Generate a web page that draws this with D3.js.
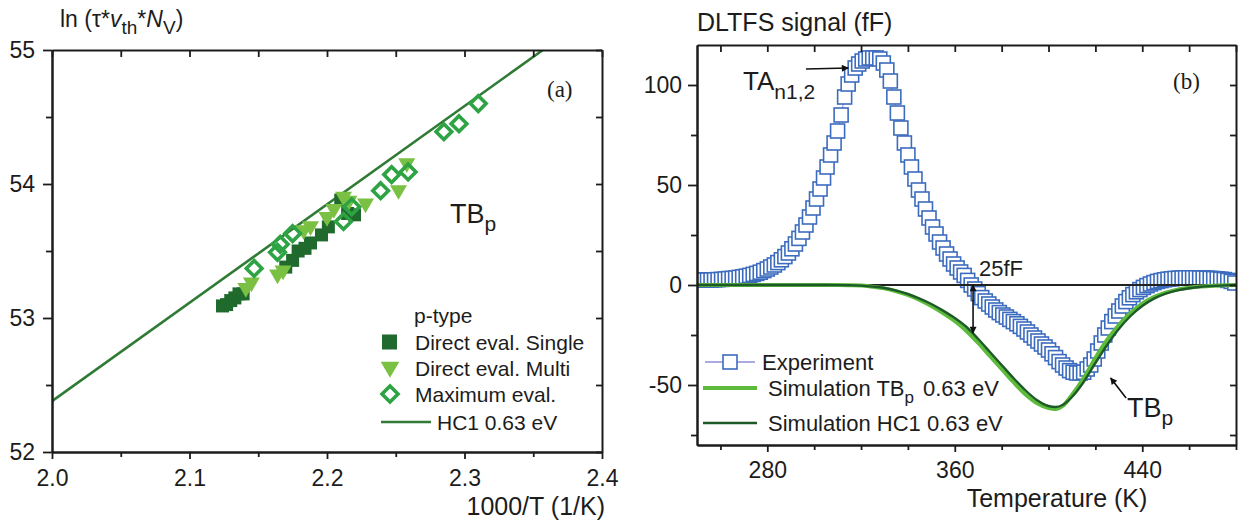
<!DOCTYPE html>
<html>
<head>
<meta charset="utf-8">
<script src="https://cdn.jsdelivr.net/npm/d3@7"></script>
<style>
  body { margin: 0; background: #fff; }
  text { font-family: "Liberation Sans", Arial, sans-serif; fill: #1c1c1c; }
  .serif { font-family: "Liberation Serif", "Times New Roman", serif; }
</style>
</head>
<body>
<svg id="fig" width="1244" height="524"></svg>
<script>
// ---------- panel (a): Arrhenius plot of TBp ----------
const singleX = [2.124, 2.127, 2.130, 2.133, 2.136, 2.139, 2.170, 2.175, 2.179, 2.184, 2.188, 2.196, 2.201, 2.210, 2.215, 2.220];
const singleY = [53.09, 53.10, 53.13, 53.15, 53.18, 53.18, 53.38, 53.43, 53.50, 53.52, 53.56, 53.62, 53.68, 53.88, 53.78, 53.77];

const multiX = [2.141, 2.145, 2.164, 2.168, 2.183, 2.188, 2.200, 2.205, 2.212, 2.216, 2.228, 2.252, 2.258];
const multiY = [53.21, 53.25, 53.31, 53.34, 53.64, 53.67, 53.74, 53.80, 53.89, 53.86, 53.84, 53.94, 54.14];

const maxX = [2.147, 2.164, 2.166, 2.175, 2.212, 2.218, 2.239, 2.247, 2.259, 2.285, 2.296, 2.310];
const maxY = [53.37, 53.49, 53.55, 53.63, 53.72, 53.83, 53.95, 54.07, 54.09, 54.39, 54.45, 54.60];

// HC1 0.63 eV reference line (end points)
const hc1X = [2.0, 2.357];
const hc1Y = [52.38, 55.0];

const aXTicks = [2.0, 2.1, 2.2, 2.3, 2.4];
const aXMinor = [2.05, 2.15, 2.25, 2.35];
const aYTicks = [52, 53, 54, 55];
const aYMinor = [52.5, 53.5, 54.5];

// ---------- panel (b): DLTFS spectrum ----------
const expT = [
  250, 251.5, 253, 254.5, 256, 257.5, 259, 260.5, 262, 263.5,
  265, 266.5, 268, 269.5, 271, 272.5, 274, 275.5, 277, 278.5,
  280, 281.5, 283, 284.5, 286, 287.5, 289, 290.5, 292, 293.5,
  295, 296.5, 298, 299.5, 301, 302.5, 304, 305.5, 307, 308.5,
  310, 311.5, 313, 314.5, 316, 317.5, 319, 320.5, 322, 323.5,
  325, 326.5, 328, 329.5, 331, 332.5, 334, 335.5, 337, 338.5,
  340, 341.5, 343, 344.5, 346, 347.5, 349, 350.5, 352, 353.5,
  355, 356.5, 358, 359.5, 361, 362.5, 364, 365.5, 367, 368.5,
  370, 371.5, 373, 374.5, 376, 377.5, 379, 380.5, 382, 383.5,
  385, 386.5, 388, 389.5, 391, 392.5, 394, 395.5, 397, 398.5,
  400, 401.5, 403, 404.5, 406, 407.5, 409, 410.5, 412, 413.5,
  415, 416.5, 418, 419.5, 421, 422.5, 424, 425.5, 427, 428.5,
  430, 431.5, 433, 434.5, 436, 437.5, 439, 440.5, 442, 443.5,
  445, 446.5, 448, 449.5, 451, 452.5, 454, 455.5, 457, 458.5,
  460, 461.5, 463, 464.5, 466, 467.5, 469, 470.5, 472, 473.5,
  475, 476.5, 478, 479.5];
const expS = [
  2.5, 2.5, 2.5, 2.5, 2.5, 2.6, 2.7, 2.8, 3.0, 3.2,
  3.3, 3.5, 3.8, 4.1, 4.4, 4.8, 5.3, 5.8, 6.4, 7.2,
  8.0, 9.0, 10.0, 11.2, 12.6, 14.2, 16.0, 18.1, 20.5, 23.3,
  26.5, 30, 34, 38.5, 43, 48, 53.5, 59, 65, 71,
  77, 85, 94, 100.5, 105, 108.5, 110.5, 112, 113, 113.5,
  113.5, 113.5, 113, 111, 107.5, 102, 94, 86, 78.5, 71,
  65, 59, 53, 47.5, 43, 38, 33.5, 29, 25.5, 21.5,
  18.5, 15.5, 13, 10.5, 8.5, 6.5, 4.8, 2.3, 0, -2,
  -4.3, -6.3, -8, -9.5, -11, -12.5, -13.8, -15, -16, -17.2,
  -18.3, -19.4, -20.7, -22, -23.5, -25, -26.5, -28, -29.5, -31,
  -32.5, -34.4, -36.3, -38.3, -40, -41.5, -42.8, -43.6, -44, -44,
  -43.6, -42, -40, -37, -33, -29, -25, -21.5, -18.3, -15.5,
  -13, -10.5, -8.3, -6.4, -4.8, -3.4, -2.3, -1.2, -0.3, 0.5,
  1.2, 1.8, 2.2, 2.6, 2.9, 3.1, 3.3, 3.4, 3.5, 3.6,
  3.6, 3.6, 3.6, 3.5, 3.5, 3.4, 3.3, 3.2, 3.1, 2.9,
  2.7, 2.3, 1.8, 1.0];

const simT   = [250,260,270,280,290,300,305,310,315,320,325,330,335,340,345,350,355,360,365,370,375,
                380,385,390,395,400,403,406,410,415,420,425,430,435,440,445,450,455,460,465,470,475,480];
const simHC1 = [0,0,0,0,0,0,0,-0.05,-0.15,-0.3,-0.8,-1.5,-2.8,-4.5,-6.8,-9.5,-12.8,-16.5,-21,-27,-33.5,
                -40,-46.5,-52.5,-57.5,-60.5,-61,-60,-56,-48.5,-39,-30,-22,-15.5,-10.5,-6.8,-4.3,-2.7,-1.6,-0.9,-0.5,-0.2,0];
const simTBp = [0,0,0,0,0,0,0,-0.05,-0.15,-0.3,-0.9,-1.7,-3.1,-5,-7.5,-10.5,-14,-18,-23,-29,-35.5,
                -42,-48.5,-54.5,-59,-61.5,-62,-60.5,-55,-46.5,-36.5,-27.5,-20,-14,-9.3,-6,-3.8,-2.3,-1.4,-0.8,-0.4,-0.15,0];

const bXTicks = [280, 360, 440];
const bXMinor = [260, 300, 320, 340, 380, 400, 420, 460, 480];
const bYTicks = [-50, 0, 50, 100];
const bYMinor = [-75, -25, 25, 75];

// ---------- colours ----------
const C = {
  axis: "#1c1c1c",
  single: "#1f6a2c",
  multi: "#7ac143",
  max: "#2ea344",
  hc1Line: "#2f7a34",
  exp: "#3c6cbf",
  expLine: "#8f8fd6",
  simTB: "#5dbb3c",
  simHC: "#1d5a28"
};

const svg = d3.select("#fig");
// plain hyphen for negative tick labels
const intFmt = d => String(Math.round(d));

function styleAxis(g, fontSize) {
  g.attr("font-family", null).attr("font-size", null);
  g.select(".domain").attr("stroke", C.axis).attr("stroke-width", 2);
  g.selectAll(".tick line").attr("stroke", C.axis).attr("stroke-width", 1.8);
  g.selectAll(".tick text").attr("fill", C.axis).style("font-size", fontSize + "px");
}

function drawFrame(x, y, xt, xm, yt, ym, fmtX, fmtY, opts) {
  const [x0, x1] = x.range();
  const [y0, y1] = y.range();
  // bottom
  svg.append("g").attr("transform", `translate(0,${y0})`)
    .call(d3.axisBottom(x).tickValues(xm).tickSize(5).tickSizeOuter(0).tickFormat(""))
    .call(g => styleAxis(g, 23));
  svg.append("g").attr("transform", `translate(0,${y0})`)
    .call(d3.axisBottom(x).tickValues(xt).tickSize(7).tickPadding(opts.bPad).tickSizeOuter(0).tickFormat(fmtX))
    .call(g => styleAxis(g, 23));
  // top (inward ticks)
  svg.append("g").attr("transform", `translate(0,${y1})`)
    .call(d3.axisTop(x).tickValues(xt.concat(xm)).tickSize(-7).tickSizeOuter(0).tickFormat(""))
    .call(g => styleAxis(g, 23));
  // left
  svg.append("g").attr("transform", `translate(${x0},0)`)
    .call(d3.axisLeft(y).tickValues(ym).tickSize(6).tickSizeOuter(0).tickFormat(""))
    .call(g => styleAxis(g, 23));
  svg.append("g").attr("transform", `translate(${x0},0)`)
    .call(d3.axisLeft(y).tickValues(yt).tickSize(9).tickPadding(opts.lPad).tickSizeOuter(0).tickFormat(fmtY))
    .call(g => styleAxis(g, 23));
  // right (inward ticks)
  svg.append("g").attr("transform", `translate(${x1},0)`)
    .call(d3.axisRight(y).tickValues(yt.concat(ym)).tickSize(-6).tickSizeOuter(0).tickFormat(""))
    .call(g => styleAxis(g, 23));
}

// ================= panel (a) =================
const xa = d3.scaleLinear().domain([2.0, 2.4]).range([52, 602]);
const ya = d3.scaleLinear().domain([52, 55]).range([452, 50]);

svg.append("clipPath").attr("id", "clipA")
  .append("rect").attr("x", 52).attr("y", 50).attr("width", 550).attr("height", 402);

const gA = svg.append("g").attr("clip-path", "url(#clipA)");

gA.append("path")
  .datum(hc1X.map((d, i) => [d, hc1Y[i]]))
  .attr("d", d3.line().x(d => xa(d[0])).y(d => ya(d[1])))
  .attr("fill", "none").attr("stroke", C.hc1Line).attr("stroke-width", 2.6);

const sq = 13;
gA.selectAll(".single").data(singleX.map((d, i) => [d, singleY[i]])).join("rect")
  .attr("x", d => xa(d[0]) - sq / 2).attr("y", d => ya(d[1]) - sq / 2)
  .attr("width", sq).attr("height", sq).attr("fill", C.single);

const tri = d3.symbol().type(d3.symbolTriangle).size(125);
gA.selectAll(".multi").data(multiX.map((d, i) => [d, multiY[i]])).join("path")
  .attr("d", tri)
  .attr("transform", d => `translate(${xa(d[0])},${ya(d[1]) - 2}) rotate(180)`)
  .attr("fill", C.multi);

const dia = 7.8;
function diamondPath(cx, cy, r) {
  return `M${cx},${cy - r}L${cx + r},${cy}L${cx},${cy + r}L${cx - r},${cy}Z`;
}
gA.selectAll(".max").data(maxX.map((d, i) => [d, maxY[i]])).join("path")
  .attr("d", d => diamondPath(xa(d[0]), ya(d[1]), dia))
  .attr("fill", "none").attr("stroke", C.max).attr("stroke-width", 3.6);

drawFrame(xa, ya, aXTicks, aXMinor, aYTicks, aYMinor, d3.format(".1f"), intFmt, { bPad: 11, lPad: 8 });

// axis titles (a)
const yTitleA = svg.append("text").attr("x", 60).attr("y", 27).style("font-size", "23px");
yTitleA.append("tspan").text("ln (τ*");
yTitleA.append("tspan").style("font-style", "italic").text("v");
yTitleA.append("tspan").attr("dy", 7).style("font-size", "19px").text("th");
yTitleA.append("tspan").attr("dy", -7).text("*");
yTitleA.append("tspan").style("font-style", "italic").text("N");
yTitleA.append("tspan").attr("dy", 7).style("font-size", "19px").text("V");
yTitleA.append("tspan").attr("dy", -7).text(")");

svg.append("text").attr("x", 605).attr("y", 515).attr("text-anchor", "end")
  .style("font-size", "25px").text("1000/T (1/K)");

svg.append("text").attr("class", "serif").attr("x", 547).attr("y", 97)
  .style("font-size", "23px").text("(a)");

const tbA = svg.append("text").attr("x", 450).attr("y", 223).style("font-size", "27px");
tbA.append("tspan").text("TB");
tbA.append("tspan").attr("dy", 8).style("font-size", "21px").text("p");

// legend (a)
svg.append("text").attr("x", 414).attr("y", 323).style("font-size", "21px").text("p-type");
const legA = [
  { y: 342, label: "Direct eval. Single", kind: "single" },
  { y: 368, label: "Direct eval. Multi", kind: "multi" },
  { y: 394, label: "Maximum eval.", kind: "max" },
  { y: 422, label: "HC1 0.63 eV", kind: "line" }
];
legA.forEach(e => {
  if (e.kind === "single") {
    svg.append("rect").attr("x", 382).attr("y", e.y - 7.5).attr("width", 15).attr("height", 15).attr("fill", C.single);
  } else if (e.kind === "multi") {
    svg.append("path").attr("d", d3.symbol().type(d3.symbolTriangle).size(150))
      .attr("transform", `translate(390,${e.y - 1}) rotate(180)`).attr("fill", C.multi);
  } else if (e.kind === "max") {
    svg.append("path").attr("d", diamondPath(390, e.y, 8)).attr("fill", "none")
      .attr("stroke", C.max).attr("stroke-width", 3.6);
  } else {
    svg.append("line").attr("x1", 381).attr("x2", 431).attr("y1", e.y).attr("y2", e.y)
      .attr("stroke", C.hc1Line).attr("stroke-width", 2.6);
  }
  svg.append("text").attr("x", e.kind === "line" ? 437 : 415).attr("y", e.y + 8)
    .style("font-size", "21px").text(e.label);
});

// ================= panel (b) =================
const xb = d3.scaleLinear().domain([250, 480]).range([697, 1236]);
const yb = d3.scaleLinear().domain([-80, 120]).range([445, 45]);

svg.append("clipPath").attr("id", "clipB")
  .append("rect").attr("x", 697).attr("y", 45).attr("width", 539).attr("height", 400);
const gB = svg.append("g").attr("clip-path", "url(#clipB)");

const expPts = expT.map((t, i) => [t, expS[i]]);
gB.append("path").datum(expPts)
  .attr("d", d3.line().x(d => xb(d[0])).y(d => yb(d[1])))
  .attr("fill", "none").attr("stroke", C.expLine).attr("stroke-width", 1);

const bs = 14;
gB.selectAll(".exp").data(expPts).join("rect")
  .attr("x", d => xb(d[0]) - bs / 2).attr("y", d => yb(d[1]) - bs / 2)
  .attr("width", bs).attr("height", bs)
  .attr("fill", "#fff").attr("stroke", C.exp).attr("stroke-width", 1.6);

// zero line
gB.append("line").attr("x1", xb(250)).attr("x2", xb(480)).attr("y1", yb(0)).attr("y2", yb(0))
  .attr("stroke", "#222").attr("stroke-width", 1.8);

const simLine = d3.line().curve(d3.curveMonotoneX).x(d => xb(d[0])).y(d => yb(d[1]));
gB.append("path").datum(simT.map((t, i) => [t, simTBp[i]]))
  .attr("d", simLine).attr("fill", "none").attr("stroke", C.simTB).attr("stroke-width", 4);
gB.append("path").datum(simT.map((t, i) => [t, simHC1[i]]))
  .attr("d", simLine).attr("fill", "none").attr("stroke", C.simHC).attr("stroke-width", 2.4);

drawFrame(xb, yb, bXTicks, bXMinor, bYTicks, bYMinor, intFmt, intFmt, { bPad: 10, lPad: 6 });

// arrow heads
const defs = svg.append("defs");
defs.append("marker").attr("id", "ah").attr("viewBox", "0 0 10 10").attr("refX", 9).attr("refY", 5)
  .attr("markerWidth", 9).attr("markerHeight", 7).attr("markerUnits", "userSpaceOnUse").attr("orient", "auto-start-reverse")
  .append("path").attr("d", "M0,0L10,5L0,10Z").attr("fill", "#111");

// annotations (b)
const taArrow = { t0: 296.5, t1: 314.5, v: 108 };
svg.append("line").attr("x1", xb(taArrow.t0)).attr("x2", xb(taArrow.t1))
  .attr("y1", yb(taArrow.v)).attr("y2", yb(taArrow.v) - 1)
  .attr("stroke", "#111").attr("stroke-width", 1.6).attr("marker-end", "url(#ah)");

const span25 = { t: 367.8, v0: 0, v1: -24 };
svg.append("line").attr("x1", xb(span25.t)).attr("x2", xb(span25.t))
  .attr("y1", yb(span25.v0)).attr("y2", yb(span25.v1))
  .attr("stroke", "#111").attr("stroke-width", 1.6)
  .attr("marker-start", "url(#ah)").attr("marker-end", "url(#ah)");

const tbArrow = { t0: 433.1, v0: -56.5, t1: 426.5, v1: -46.5 };
svg.append("line").attr("x1", xb(tbArrow.t0)).attr("x2", xb(tbArrow.t1))
  .attr("y1", yb(tbArrow.v0)).attr("y2", yb(tbArrow.v1))
  .attr("stroke", "#111").attr("stroke-width", 1.6).attr("marker-end", "url(#ah)");

const ta = svg.append("text").attr("x", 743).attr("y", 90).style("font-size", "26px");
ta.append("tspan").text("TA");
ta.append("tspan").attr("dy", 9).style("font-size", "21px").text("n1,2");

svg.append("text").attr("x", 979).attr("y", 276).style("font-size", "22px").text("25fF");

const tbB = svg.append("text").attr("x", 1127).attr("y", 417).style("font-size", "27px");
tbB.append("tspan").text("TB");
tbB.append("tspan").attr("dy", 8).style("font-size", "21px").text("p");

svg.append("text").attr("class", "serif").attr("x", 1173).attr("y", 89)
  .style("font-size", "23px").text("(b)");

svg.append("text").attr("x", 697).attr("y", 31).style("font-size", "25px").text("DLTFS signal (fF)");
svg.append("text").attr("x", 1057).attr("y", 507).attr("text-anchor", "middle")
  .style("font-size", "25px").text("Temperature (K)");

// legend (b)
svg.append("line").attr("x1", 705).attr("x2", 755).attr("y1", 362).attr("y2", 362)
  .attr("stroke", C.expLine).attr("stroke-width", 1.4);
svg.append("rect").attr("x", 723).attr("y", 355).attr("width", 14).attr("height", 14)
  .attr("fill", "#fff").attr("stroke", C.exp).attr("stroke-width", 1.6);
svg.append("text").attr("x", 762).attr("y", 370).style("font-size", "22px").text("Experiment");

svg.append("line").attr("x1", 703).attr("x2", 757).attr("y1", 388).attr("y2", 388)
  .attr("stroke", C.simTB).attr("stroke-width", 4);
const l2 = svg.append("text").attr("x", 768).attr("y", 396).style("font-size", "22px");
l2.append("tspan").text("Simulation TB");
l2.append("tspan").attr("dy", 7).style("font-size", "17px").text("p");
l2.append("tspan").attr("dy", -7).attr("dx", 9).text("0.63 eV");

svg.append("line").attr("x1", 703).attr("x2", 757).attr("y1", 423).attr("y2", 423)
  .attr("stroke", C.simHC).attr("stroke-width", 2.6);
svg.append("text").attr("x", 768).attr("y", 431).style("font-size", "22px").text("Simulation HC1 0.63 eV");
</script>
</body>
</html>
